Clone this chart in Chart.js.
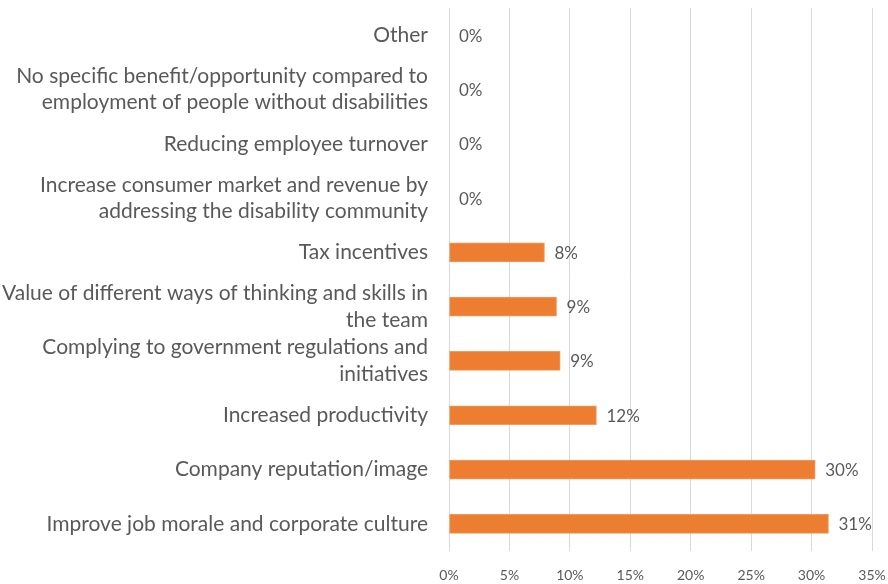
<!DOCTYPE html>
<html>
<head>
<meta charset="utf-8">
<script src="https://cdn.jsdelivr.net/npm/chart.js@4/dist/chart.umd.min.js"></script>
<style>
    html, body { margin: 0; padding: 0; background: #ffffff; }
    #wrap { width: 888px; height: 584px; }
</style>
</head>
<body>
<div id="wrap"><canvas id="benefitChart" width="888" height="584"></canvas></div>
<script>
// Perceived benefits of employing people with disabilities (share of respondents, %)
const categories = [
    'Other',
    ['No specific benefit/opportunity compared to', 'employment of people without disabilities'],
    'Reducing employee turnover',
    ['Increase consumer market and revenue by', 'addressing the disability community'],
    'Tax incentives',
    ['Value of different ways of thinking and skills in', 'the team'],
    ['Complying to government regulations and', 'initiatives'],
    'Increased productivity',
    'Company reputation/image',
    'Improve job morale and corporate culture'
];
const shares = [0, 0, 0, 0, 7.9, 8.9, 9.2, 12.2, 30.3, 31.4];
const tickMax = 35;
const tickStep = 5;

const textColor = '#595959';
const fontFamily = 'Lato, "Open Sans", sans-serif';

// draws the "n%" value right after the end of each bar
const valueLabels = {
    id: 'valueLabels',
    afterDatasetsDraw(chart) {
        const ctx = chart.ctx;
        const meta = chart.getDatasetMeta(0);
        ctx.save();
        ctx.fillStyle = textColor;
        ctx.font = '17px ' + fontFamily;
        ctx.textAlign = 'left';
        ctx.textBaseline = 'middle';
        meta.data.forEach((bar, i) => {
            const v = chart.data.datasets[0].data[i];
            ctx.fillText(Math.round(v) + '%', bar.x + 10, bar.y + 1);
        });
        ctx.restore();
    }
};

new Chart(document.getElementById('benefitChart'), {
    type: 'bar',
    data: {
        labels: categories,
        datasets: [{
            data: shares,
            backgroundColor: '#ed7d31',
            borderColor: '#f09a5e',
            borderWidth: 1,
            borderSkipped: false,
            barThickness: 19
        }]
    },
    options: {
        indexAxis: 'y',
        responsive: false,
        animation: false,
        layout: { padding: { top: 8, right: 16, bottom: 0, left: 0 } },
        plugins: {
            legend: { display: false },
            tooltip: { enabled: false }
        },
        scales: {
            x: {
                min: 0,
                max: tickMax,
                grid: { color: '#d9d9d9', lineWidth: 1, drawTicks: false },
                border: { display: false },
                ticks: {
                    stepSize: tickStep,
                    padding: 16,
                    color: textColor,
                    font: { family: fontFamily, size: 14 },
                    callback: (v) => v + '%'
                },
                afterFit: (scale) => {
                    scale.height = 33;
                    scale.paddingLeft = 0;
                    scale.paddingRight = 0;
                }
            },
            y: {
                grid: { display: false, drawTicks: false },
                border: { display: false },
                ticks: {
                    padding: 21,
                    color: textColor,
                    autoSkip: false,
                    font: { family: fontFamily, size: 21, lineHeight: 1.26 }
                },
                afterFit: (scale) => {
                    scale.width = 449;
                    scale.paddingTop = 0;
                    scale.paddingBottom = 0;
                }
            }
        }
    },
    plugins: [valueLabels]
});
</script>
</body>
</html>
